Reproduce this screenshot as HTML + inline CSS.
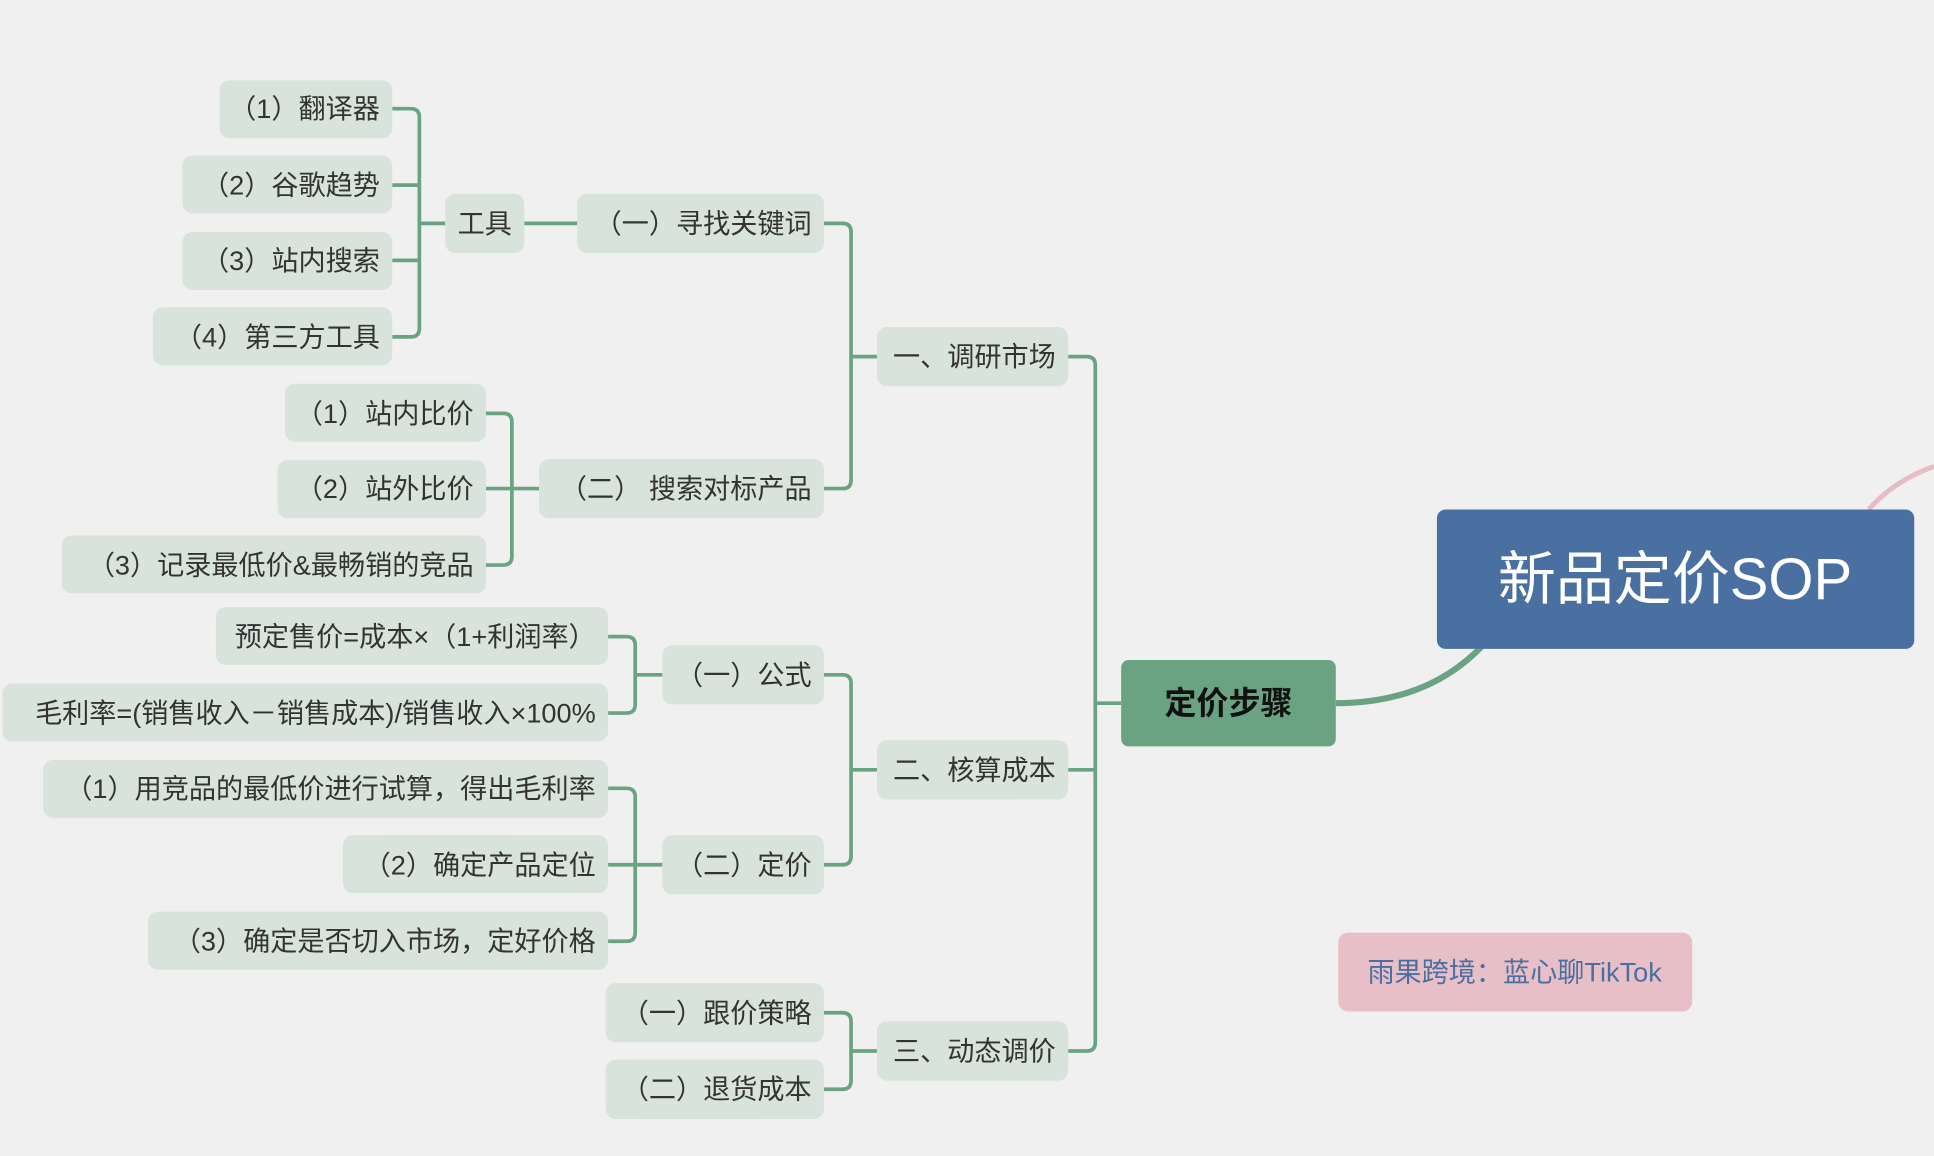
<!DOCTYPE html>
<html><head><meta charset="utf-8"><style>
html,body{margin:0;padding:0;background:#f0f0f0;}
svg{display:block}
text{font-family:"Liberation Sans","Noto Sans CJK SC",sans-serif;fill:#333;font-size:22px;text-anchor:end;dominant-baseline:central}
.c{text-anchor:middle}
.n{fill:#d7e3db}
.l{fill:none;stroke:#6aa382;stroke-width:3}
</style></head><body>
<svg width="1934" height="1156" viewBox="0 0 1568 937" xmlns="http://www.w3.org/2000/svg">
<rect width="1568" height="937" fill="#f0f0f0"/>
<path d="M1515 413 Q1535 390 1568 378" fill="none" stroke="#e8bcc4" stroke-width="4"/>
<path d="M1083 570 Q1160 570 1205 520" fill="none" stroke="#6aa382" stroke-width="5"/>
<path class="l" d="M909 570 H888"/>
<path class="l" d="M866 289 H881 Q888 289 888 296 V845 Q888 852 881 852 H866"/>
<path class="l" d="M888 624 H866"/>
<path class="l" d="M668 181 H683 Q690 181 690 188 V389 Q690 396 683 396 H668"/>
<path class="l" d="M690 289 H711"/>
<path class="l" d="M425 181 H468"/>
<path class="l" d="M318 88 H333 Q340 88 340 95 V266 Q340 273 333 273 H318"/>
<path class="l" d="M318 150 H340 M318 211 H340 M340 181 H361"/>
<path class="l" d="M394 335 H408 Q415 335 415 342 V451 Q415 458 408 458 H394"/>
<path class="l" d="M394 396 H437"/>
<path class="l" d="M668 547 H683 Q690 547 690 554 V694 Q690 701 683 701 H668"/>
<path class="l" d="M690 624 H711"/>
<path class="l" d="M493 516 H508 Q515 516 515 523 V571 Q515 578 508 578 H493"/>
<path class="l" d="M515 547 H537"/>
<path class="l" d="M493 639 H508 Q515 639 515 646 V756 Q515 763 508 763 H493"/>
<path class="l" d="M493 701 H537"/>
<path class="l" d="M668 821 H683 Q690 821 690 828 V876 Q690 883 683 883 H668"/>
<path class="l" d="M690 852 H711"/>

<rect x="1165" y="413" width="387" height="113" rx="7" fill="#4a70a2"/>
<text class="c" x="1358" y="470" style="fill:#fff;font-size:47px">新品定价SOP</text>
<rect x="909" y="535" width="174" height="70" rx="6" fill="#6aa382"/>
<text class="c" x="996" y="570" style="fill:#111;font-size:26px;font-weight:bold">定价步骤</text>

<rect class="n" x="711" y="265" width="155" height="48" rx="8"/><text x="856" y="289">一、调研市场</text>
<rect class="n" x="711" y="600" width="155" height="48" rx="8"/><text x="856" y="624">二、核算成本</text>
<rect class="n" x="711" y="828" width="155" height="48" rx="8"/><text x="856" y="852">三、动态调价</text>

<rect class="n" x="468" y="157" width="200" height="48" rx="8"/><text x="658" y="181">（一）寻找关键词</text>
<rect class="n" x="437" y="372" width="231" height="48" rx="8"/><text x="658" y="396">（二） 搜索对标产品</text>
<rect class="n" x="361" y="157" width="64" height="48" rx="8"/><text class="c" x="393" y="181">工具</text>
<rect class="n" x="537" y="523" width="131" height="48" rx="8"/><text x="658" y="547">（一）公式</text>
<rect class="n" x="537" y="677" width="131" height="48" rx="8"/><text x="658" y="701">（二）定价</text>
<rect class="n" x="491" y="797" width="177" height="48" rx="8"/><text x="658" y="821">（一）跟价策略</text>
<rect class="n" x="491" y="859" width="177" height="48" rx="8"/><text x="658" y="883">（二）退货成本</text>

<rect class="n" x="178" y="65" width="140" height="47" rx="8"/><text x="308" y="88">（1）翻译器</text>
<rect class="n" x="148" y="126" width="170" height="47" rx="8"/><text x="308" y="150">（2）谷歌趋势</text>
<rect class="n" x="148" y="188" width="170" height="47" rx="8"/><text x="308" y="211">（3）站内搜索</text>
<rect class="n" x="124" y="249" width="194" height="47" rx="8"/><text x="308" y="273">（4）第三方工具</text>
<rect class="n" x="231" y="311" width="163" height="47" rx="8"/><text x="384" y="335">（1）站内比价</text>
<rect class="n" x="225" y="373" width="169" height="47" rx="8"/><text x="384" y="396">（2）站外比价</text>
<rect class="n" x="50" y="434" width="344" height="47" rx="8"/><text x="384" y="458">（3）记录最低价&amp;最畅销的竞品</text>
<rect class="n" x="175" y="492" width="318" height="47" rx="8"/><text x="483" y="516">预定售价=成本×（1+利润率）</text>
<rect class="n" x="2" y="554" width="491" height="47" rx="8"/><text x="483" y="578">毛利率=(销售收入－销售成本)/销售收入×100%</text>
<rect class="n" x="35" y="616" width="458" height="47" rx="8"/><text x="483" y="639">（1）用竞品的最低价进行试算，得出毛利率</text>
<rect class="n" x="278" y="677" width="215" height="47" rx="8"/><text x="483" y="701">（2）确定产品定位</text>
<rect class="n" x="120" y="739" width="373" height="47" rx="8"/><text x="483" y="763">（3）确定是否切入市场，定好价格</text>

<rect x="1085" y="756" width="287" height="64" rx="8" fill="#e8bfc6"/>
<text class="c" x="1228" y="788" style="fill:#4a70a2">雨果跨境：蓝心聊TikTok</text>
</svg>
</body></html>
